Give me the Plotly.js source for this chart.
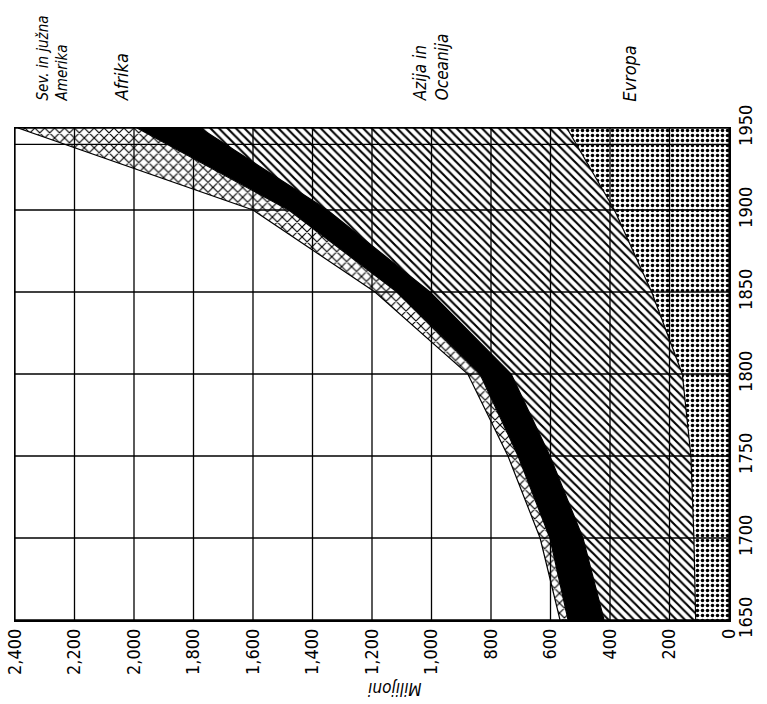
<!DOCTYPE html>
<html>
<head>
<meta charset="utf-8">
<script src="https://cdn.plot.ly/plotly-3.0.1.min.js"></script>
<style>html,body{margin:0;padding:0;background:#fff;}#chart{width:767px;height:704px;}</style>
</head>
<body>
<div id="chart"></div>
<script>
// Years (vertical axis, rotated chart)
const years = [1650, 1700, 1750, 1800, 1850, 1900, 1950];
// Population by region, millions (stacked from 0 outward)
const evropa  = [112, 118, 128, 157, 260, 385, 545];
const azija   = [308, 373, 474, 575, 745, 965, 1233];
const afrika  = [121, 111, 107, 105, 111, 130, 212];
const amerika = [27, 33, 34, 41, 74, 120, 400];
// Tick labels
const millionTicks = [0, 200, 400, 600, 800, 1000, 1200, 1400, 1600, 1800, 2000, 2200, 2400];
const millionLabels = ["0", "200", "400", "600", "800", "1,000", "1,200", "1,400", "1,600", "1,800", "2,000", "2,200", "2,400"];
const yearTicks = [1650, 1700, 1750, 1800, 1850, 1900, 1940, 1950];
const yearLabels = ["1650", "1700", "1750", "1800", "1850", "1900", "", "1950"];
// Series labels
const seriesNames = ["Evropa", "Azija in<br>Oceanija", "Afrika", "Sev. in južna<br>Amerika"];
const axisTitle = "Milijoni";

const lineStyle = {color: "black", width: 1.2};
const traces = [
  {x: evropa, y: years, name: "Evropa", type: "scatter", mode: "lines", orientation: "h", stackgroup: "one",
   line: lineStyle, fillcolor: "white",
   fillpattern: {shape: ".", size: 5, solidity: 0.4, fgcolor: "black", bgcolor: "white"}},
  {x: azija, y: years, name: "Azija in Oceanija", type: "scatter", mode: "lines", orientation: "h", stackgroup: "one",
   line: lineStyle, fillcolor: "white",
   fillpattern: {shape: "\\", size: 6, solidity: 0.35, fgcolor: "black", bgcolor: "white"}},
  {x: afrika, y: years, name: "Afrika", type: "scatter", mode: "lines", orientation: "h", stackgroup: "one",
   line: lineStyle, fillcolor: "black"},
  {x: amerika, y: years, name: "Sev. in južna Amerika", type: "scatter", mode: "lines", orientation: "h", stackgroup: "one",
   line: lineStyle, fillcolor: "white",
   fillpattern: {shape: "x", size: 7, solidity: 0.3, fgcolor: "black", bgcolor: "white"}}
];

const fam = "DejaVu Sans Condensed, DejaVu Sans, Liberation Sans, sans-serif";
const labelSizes = [18, 17, 18, 15];
const labelPos = [333, 1002, 2044, 2272];
const annotations = seriesNames.map((t, i) => ({
  text: t, x: labelPos[i], xref: "x", y: 1.05, yref: "paper",
  xanchor: "center", yanchor: "bottom", textangle: -90, showarrow: false, align: "left",
  font: {family: fam, size: labelSizes[i], color: "black", style: "italic"}
}));
annotations.push({
  text: axisTitle, x: 1125, xref: "x", y: -0.14, yref: "paper",
  xanchor: "center", yanchor: "middle", textangle: 180, showarrow: false,
  font: {family: fam, size: 17, color: "black", style: "italic"}
});

// Grid lines drawn above the filled areas, as in the original
const gridStyle = {color: "black", width: 1.3};
const shapes = [];
millionTicks.forEach(v => shapes.push({type: "line", xref: "x", yref: "paper", x0: v, x1: v, y0: 0, y1: 1, layer: "above", line: gridStyle}));
yearTicks.forEach(v => shapes.push({type: "line", xref: "paper", yref: "y", x0: 0, x1: 1, y0: v, y1: v, layer: "above", line: gridStyle}));

const layout = {
  width: 767, height: 704,
  margin: {l: 15, r: 38, t: 128, b: 84},
  paper_bgcolor: "white", plot_bgcolor: "white",
  showlegend: false,
  font: {family: fam, color: "black", size: 17},
  xaxis: {
    range: [2400, 0], tickvals: millionTicks, ticktext: millionLabels, tickangle: -90,
    showgrid: false, zeroline: false,
    showline: true, linecolor: "black", linewidth: 1.5, mirror: true, ticks: "",
    tickfont: {size: 18}
  },
  yaxis: {
    range: [1650, 1950], side: "right", tickvals: yearTicks, ticktext: yearLabels, tickangle: -90,
    showgrid: false, zeroline: false,
    showline: true, linecolor: "black", linewidth: 1.5, mirror: true, ticks: "",
    tickfont: {size: 18}
  },
  shapes: shapes,
  annotations: annotations
};

Plotly.newPlot("chart", traces, layout, {displayModeBar: false, staticPlot: true});
</script>
</body>
</html>
